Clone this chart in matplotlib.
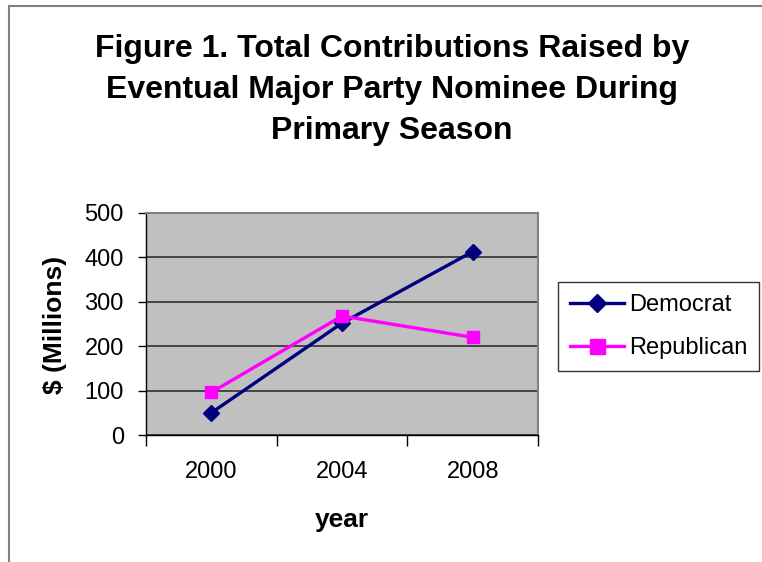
import matplotlib.pyplot as plt
from matplotlib.lines import Line2D

# data
years = ['2000', '2004', '2008']
democrat = [50, 252, 413]
republican = [96, 268, 220]

W, H = 762, 562
fig = plt.figure(figsize=(W / 100, H / 100), dpi=100)
plt.rcParams['font.family'] = ['Liberation Sans', 'DejaVu Sans']

def fx(px):
    return px / W

def fy(py):
    return 1 - py / H

# outer border (left and top only visible)
fig.add_artist(Line2D([fx(9), fx(9)], [0, fy(6)], color='#808080', lw=1.5))
fig.add_artist(Line2D([fx(9), 1], [fy(6), fy(6)], color='#808080', lw=1.5))

fig.text(fx(392), fy(90), 'Figure 1. Total Contributions Raised by\nEventual Major Party Nominee During\nPrimary Season',
         ha='center', va='center', fontsize=23, fontweight='bold', linespacing=1.48)

ax = fig.add_axes([fx(146), fy(435), fx(538) - fx(146), fy(213) - fy(435)])
ax.set_facecolor('#C0C0C0')
x = range(len(years))
ax.plot(x, democrat, color='#000080', lw=2.4, marker='D', markersize=8, label='Democrat')
ax.plot(x, republican, color='#FF00FF', lw=2.4, marker='s', markersize=9, label='Republican')

ax.set_xlim(-0.5, 2.5)
ax.set_ylim(0, 500)
ax.set_yticks(range(0, 501, 100))
ax.yaxis.grid(True, color='#303030', lw=1.2)
ax.set_axisbelow(True)
ax.set_xticks([-0.5, 0.5, 1.5, 2.5])
ax.set_xticklabels([])
ax.set_xticks(list(x), minor=True)
ax.set_xticklabels(years, minor=True)
ax.tick_params(axis='x', which='major', length=8, width=1, direction='out')
ax.tick_params(axis='x', which='minor', length=0, pad=19, labelsize=17)
ax.tick_params(axis='y', length=6, width=1, labelsize=17, pad=10)

for s in ['top', 'right']:
    ax.spines[s].set_color('#808080')
    ax.spines[s].set_linewidth(1.5)
for s in ['left', 'bottom']:
    ax.spines[s].set_color('black')
    ax.spines[s].set_linewidth(1)

fig.text(fx(55), fy(325), '$ (Millions)', rotation=90, ha='center', va='center',
         fontsize=19, fontweight='bold')
fig.text(fx(342), fy(520), 'year', ha='center', va='center', fontsize=19, fontweight='bold')

leg = fig.legend(loc='upper left', bbox_to_anchor=(fx(558), fy(282)), fontsize=17,
                 frameon=True, fancybox=False, edgecolor='black', handlelength=2.3,
                 handletextpad=0.2, borderpad=0.5, labelspacing=0.9, borderaxespad=0,
                 markerscale=1.2)
leg.get_frame().set_linewidth(1)

fig.savefig('out.png', dpi=100, facecolor='white')
